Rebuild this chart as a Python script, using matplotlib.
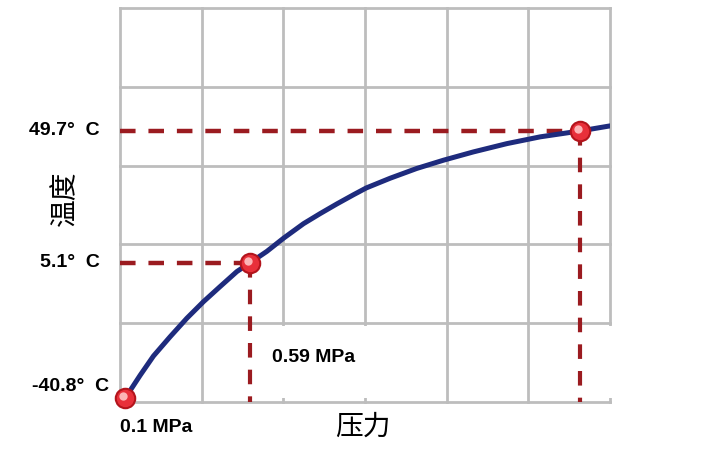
import numpy as np
import matplotlib
matplotlib.use("Agg")
from matplotlib import pyplot as plt
from matplotlib import transforms
from matplotlib.patches import Rectangle

# saturation curve (pressure MPa, temperature C)
pressure = [0.1, 0.159, 0.211, 0.276, 0.342, 0.407, 0.472, 0.538, 0.59,
            0.655, 0.721, 0.799, 0.864, 0.930, 0.995, 1.045, 1.139, 1.243,
            1.348, 1.465, 1.596, 1.727, 1.884, 2.0]
temperature = [-40.8, -33.0, -26.5, -20.0, -13.7, -8.1, -3.0, 2.1, 5.1,
               8.9, 13.4, 18.3, 21.7, 25.0, 28.1, 30.4, 33.7, 37.0,
               39.8, 42.6, 45.4, 47.7, 49.7, 51.4]

# marked points
mark_p = [0.1, 0.59, 1.884]
mark_t = [-40.8, 5.1, 49.7]
temp_labels = ["49.7°  C", "5.1°  C", "-40.8°  C"]
label_temps = [49.7, 5.1, -40.8]

xmin, xmax = 0.08, 2.0
ymin, ymax = -42.05, 91.3

fig = plt.figure(figsize=(7.04, 4.51), dpi=100)
W, H = 704, 451
ax = fig.add_axes([120 / W, 1 - 402 / H, 490 / W, 394 / H])
ax.set_xlim(xmin, xmax)
ax.set_ylim(ymin, ymax)

# grid
ax.set_xticks(np.linspace(xmin, xmax, 7))
ax.set_yticks(np.linspace(ymin, ymax, 6))
ax.grid(True, color="#BDBDBD", lw=2)
ax.set_axisbelow(True)
ax.tick_params(length=0, labelbottom=False, labelleft=False)
for s in ax.spines.values():
    s.set_visible(False)
for gl in ax.get_xgridlines() + ax.get_ygridlines():
    gl.set_clip_on(False)

# white patches hiding part of the grid
ax.add_patch(Rectangle((253 / W, 1 - 398 / H), 114 / W, 72 / H,
                       transform=fig.transFigure, facecolor="white",
                       edgecolor="none", zorder=1.5, clip_on=False))
ax.add_patch(Rectangle((604 / W, 1 - 398 / H), 96 / W, 72 / H,
                       transform=fig.transFigure, facecolor="white",
                       edgecolor="none", zorder=1.5, clip_on=False))

# dashed guide lines
red = "#9B1B20"
for p, t in zip(mark_p[1:], mark_t[1:]):
    ax.plot([xmin, p], [t, t], color=red, lw=3.2, ls=(0, (3.5, 2.9)),
            solid_capstyle="butt", zorder=3)
    ax.plot([p, p], [t, ymin], color=red, lw=3.0, ls=(0, (3.5, 2.9)),
            solid_capstyle="butt", zorder=3, clip_on=False)

# curve
ax.plot(pressure, temperature, color="#1E2B7D", lw=3.6, zorder=4,
        solid_capstyle="round", solid_joinstyle="round")

# markers with a small highlight
ax.plot(mark_p, mark_t, "o", ms=14, mfc="#E8303A", mec="#B3141C", mew=1.5,
        zorder=5, clip_on=False)
hl = transforms.offset_copy(ax.transData, fig=fig, x=-2, y=2, units="dots")
ax.plot(mark_p, mark_t, "o", ms=6, mfc="#FFC4C4", mec="none", alpha=0.9,
        transform=hl, zorder=6, clip_on=False)

bold = dict(family="Liberation Sans", weight="bold", fontsize=14, color="black")
cjk = dict(family=["Noto Sans CJK SC", "DejaVu Sans"], fontsize=20, color="black")

# temperature labels
blend = transforms.blended_transform_factory(fig.transFigure, ax.transData)
for lab, t in zip(temp_labels, label_temps):
    dy = 12 if t == label_temps[-1] else 0
    xr = 109 if t == label_temps[-1] else 100
    ax.annotate(lab, xy=(xr / W, t), xycoords=blend, xytext=(0, dy),
                textcoords="offset pixels", ha="right", va="center", **bold)

# pressure labels
ax.annotate("0.1 MPa", xy=(mark_p[0], ymin), xytext=(-5, -26),
            textcoords="offset pixels", ha="left", va="center",
            annotation_clip=False, **bold)
ax.annotate("0.59 MPa", xy=(mark_p[1], ymin), xytext=(63, 45),
            textcoords="offset pixels", ha="center", va="center",
            annotation_clip=False, zorder=7, **bold)

# axis titles
ax.text((65 - 120) / 490, (402 - 198) / 394, "温度", rotation=90,
        transform=ax.transAxes, ha="center", va="center", **cjk)
ax.text((363 - 120) / 490, (402 - 427) / 394, "压力",
        transform=ax.transAxes, ha="center", va="center", **cjk)

fig.savefig("out.png", dpi=100, facecolor="white")
